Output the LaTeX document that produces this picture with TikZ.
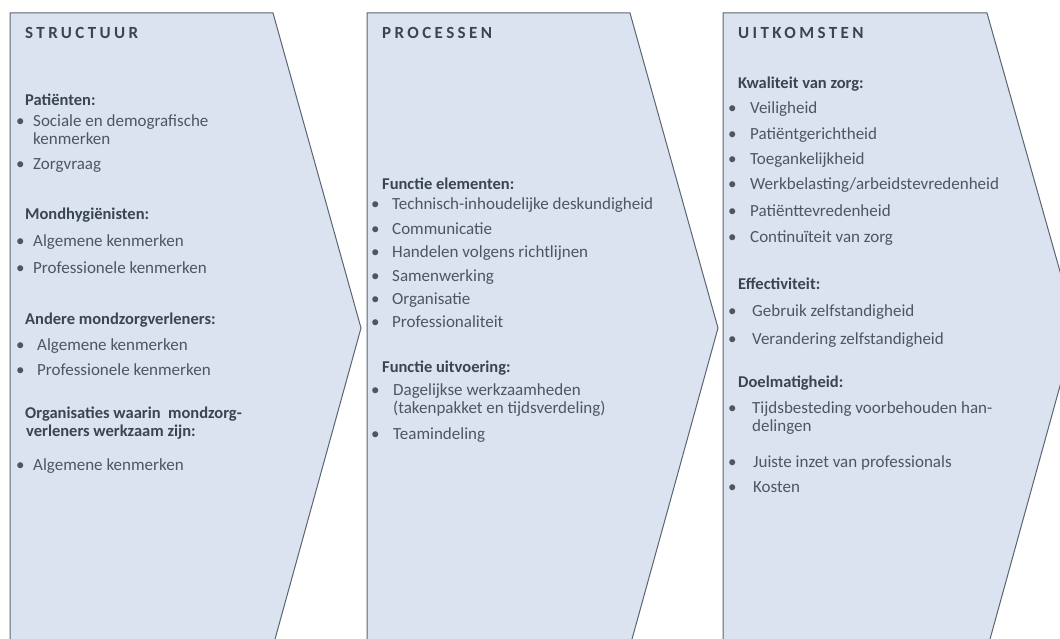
\documentclass[tikz,border=0pt]{standalone}
\usepackage{fontspec}
\setmainfont{Carlito}
\newfontfamily\kopfam[LetterSpace=20]{Carlito}

\definecolor{vlakvul}{HTML}{DAE3EF}
\definecolor{vlakrand}{HTML}{5C6470}
\definecolor{kopkleur}{HTML}{3A4552}
\definecolor{tekstkleur}{HTML}{4F565F}

\tikzset{
	vlak/.style = {draw = vlakrand, fill = vlakvul, line width = 1pt},
	kop/.style = {anchor = base west, inner sep = 0pt, text = kopkleur,
		font = \kopfam\bfseries\fontsize{17}{20}\selectfont},
	sub/.style = {anchor = base west, inner sep = 0pt, text = kopkleur,
		font = \bfseries\fontsize{16.5}{19}\selectfont},
	regel/.style = {anchor = base west, inner sep = 0pt, text = tekstkleur,
		font = \fontsize{17}{20}\selectfont},
	punt/.style = {regel, execute at begin node = {\llap{\makebox[#1][l]{\textbullet}}}},
	punt/.default = 17pt
}

\begin{document}
\begin{tikzpicture}[x = 1pt, y = -1pt]
	\useasboundingbox (0,0) rectangle (1060,639);
	\clip (0,0) rectangle (1060,639);

	% de drie pijlvlakken
	\draw[vlak] (10,13) -- (273,13) -- (361,328) -- (272,650) -- (10,650) -- cycle;
	\draw[vlak] (367,13) -- (630,13) -- (718,328) -- (629,650) -- (367,650) -- cycle;
	\draw[vlak] (723,13) -- (987,13) -- (1076,328) -- (987,650) -- (723,650) -- cycle;

	% structuur
	\node[kop] (kopS) at (25,39) {STRUCTUUR};
	\node[sub] (pat) at (25,106) {Patiënten:};
	\node[punt] (pat1) at (33,127) {Sociale en demografische};
	\node[regel] (pat1b) at (33,145) {kenmerken};
	\node[punt] (pat2) at (33,170) {Zorgvraag};
	\node[sub] (mond) at (25,220) {Mondhygiënisten:};
	\node[punt] (mond1) at (33,247) {Algemene kenmerken};
	\node[punt] (mond2) at (33,273) {Professionele kenmerken};
	\node[sub] (andr) at (25,324) {Andere mondzorgverleners:};
	\node[punt = 21pt] (andr1) at (37,350) {Algemene kenmerken};
	\node[punt = 21pt] (andr2) at (37,375) {Professionele kenmerken};
	\node[sub] (org) at (25,418) {Organisaties waarin\ \ mondzorg-};
	\node[sub] (orgb) at (26,436) {verleners werkzaam zijn:};
	\node[punt] (org1) at (33,470) {Algemene kenmerken};

	% processen
	\node[kop] (kopP) at (382,39) {PROCESSEN};
	\node[sub] (elem) at (382,190) {Functie elementen:};
	\node[punt = 21pt] (elem1) at (392,210) {Technisch-inhoudelijke deskundigheid};
	\node[punt = 21pt] (elem2) at (392,234) {Communicatie};
	\node[punt = 21pt] (elem3) at (392,257) {Handelen volgens richtlijnen};
	\node[punt = 21pt] (elem4) at (392,281) {Samenwerking};
	\node[punt = 21pt] (elem5) at (392,304) {Organisatie};
	\node[punt = 21pt] (elem6) at (392,327) {Professionaliteit};
	\node[sub] (uitv) at (382,372) {Functie uitvoering:};
	\node[punt = 22pt] (uitv1) at (393,395) {Dagelijkse werkzaamheden};
	\node[regel] (uitv1b) at (393,413) {(takenpakket en tijdsverdeling)};
	\node[punt = 22pt] (uitv2) at (393,439) {Teamindeling};

	% uitkomsten
	\node[kop] (kopU) at (738,39) {UITKOMSTEN};
	\node[sub] (kwal) at (738,89) {Kwaliteit van zorg:};
	\node[punt = 22pt] (kwal1) at (750,114) {Veiligheid};
	\node[punt = 22pt] (kwal2) at (750,140) {Patiëntgerichtheid};
	\node[punt = 22pt] (kwal3) at (750,165) {Toegankelijkheid};
	\node[punt = 22pt] (kwal4) at (750,190) {Werkbelasting/arbeidstevredenheid};
	\node[punt = 22pt] (kwal5) at (750,217) {Patiënttevredenheid};
	\node[punt = 22pt] (kwal6) at (750,242) {Continuïteit van zorg};
	\node[sub] (eff) at (738,289) {Effectiviteit:};
	\node[punt = 24pt] (eff1) at (752,316) {Gebruik zelfstandigheid};
	\node[punt = 24pt] (eff2) at (752,344) {Verandering zelfstandigheid};
	\node[sub] (doel) at (738,387) {Doelmatigheid:};
	\node[punt = 24pt] (doel1) at (752,413) {Tijdsbesteding voorbehouden han-};
	\node[regel] (doel1b) at (752,431) {delingen};
	\node[punt = 25pt] (doel2) at (753,467) {Juiste inzet van professionals};
	\node[punt = 25pt] (doel3) at (753,492) {Kosten};
\end{tikzpicture}
\end{document}
